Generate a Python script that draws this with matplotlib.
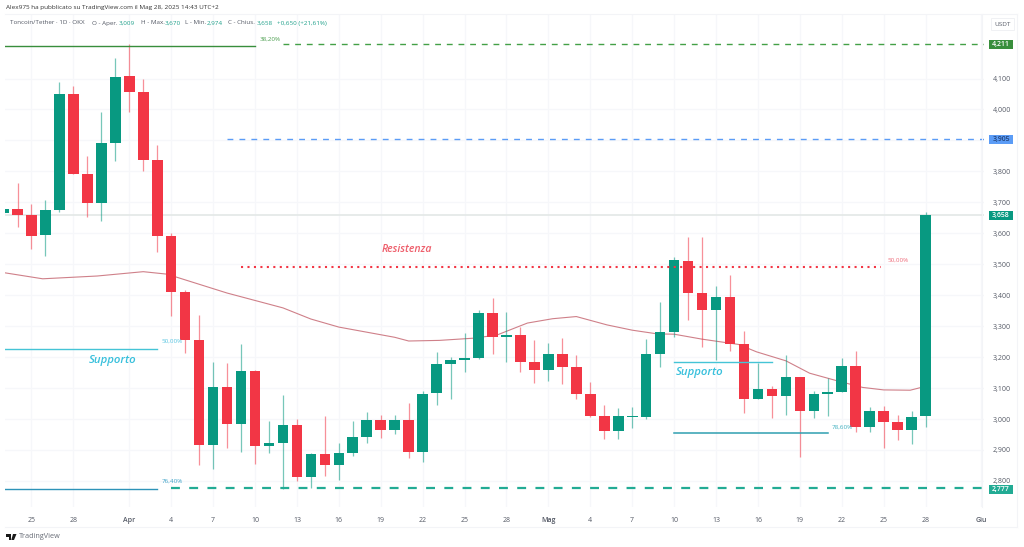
import matplotlib
matplotlib.use("Agg")
import matplotlib.pyplot as plt
from matplotlib.lines import Line2D
from matplotlib.patches import Rectangle, Polygon, Circle

W, H = 1024, 547
plt.rcParams['font.family'] = ['Open Sans', 'DejaVu Sans']

# Daily candles, first = 23 Mar 2025, last = 28 May 2025
opens = [3.665,3.680,3.660,3.594,3.676,4.049,3.793,3.699,3.893,4.108,4.058,3.836,3.591,3.411,3.255,
         2.917,3.102,2.984,3.154,2.912,2.922,2.981,2.813,2.887,2.852,2.889,2.941,2.996,2.965,2.996,
         2.892,3.084,3.177,3.190,3.197,3.342,3.266,3.272,3.183,3.158,3.211,3.168,3.081,3.011,2.961,
         3.008,3.008,3.211,3.280,3.511,3.407,3.351,3.393,3.242,3.065,3.098,3.073,3.136,3.025,3.081,
         3.088,3.171,2.974,3.027,2.990,2.965,3.009]
highs = [3.680,3.763,3.695,3.708,4.089,4.076,3.850,3.992,4.166,4.211,4.099,3.885,3.601,3.417,3.336,
         3.184,3.180,3.242,3.158,2.994,3.078,2.999,2.891,3.011,2.922,2.995,3.023,3.013,3.013,3.053,
         3.089,3.216,3.200,3.279,3.352,3.390,3.346,3.298,3.255,3.247,3.262,3.206,3.119,3.044,3.036,
         3.040,3.258,3.378,3.524,3.587,3.587,3.431,3.464,3.284,3.180,3.107,3.206,3.136,3.091,3.132,
         3.197,3.220,3.038,3.042,3.013,3.026,3.670]
lows = [3.665,3.620,3.549,3.527,3.670,3.790,3.653,3.641,3.835,3.993,3.802,3.541,3.334,3.214,2.851,
        2.838,2.907,2.893,2.855,2.891,2.774,2.799,2.777,2.815,2.804,2.881,2.921,2.939,2.952,2.875,
        2.860,3.046,3.065,3.153,3.195,3.210,3.185,3.151,3.117,3.124,3.114,3.065,3.005,2.936,2.936,
        2.972,2.999,3.169,3.266,3.320,3.234,3.191,3.221,3.019,3.065,3.002,3.013,2.878,3.004,3.011,
        3.088,2.957,2.958,2.905,2.932,2.919,2.974]
closes = [3.680,3.660,3.592,3.676,4.049,3.793,3.697,3.893,4.106,4.058,3.836,3.591,3.411,3.255,2.917,
          3.102,2.984,3.156,2.912,2.923,2.981,2.813,2.887,2.852,2.889,2.941,2.996,2.965,2.996,2.892,
          3.082,3.177,3.190,3.197,3.342,3.266,3.272,3.183,3.158,3.211,3.168,3.081,3.011,2.961,3.010,
          3.010,3.211,3.280,3.513,3.407,3.351,3.393,3.242,3.065,3.098,3.073,3.136,3.025,3.081,3.088,
          3.171,2.974,3.027,2.990,2.965,3.006,3.658]

# Moving average, read at these day positions
ma_days = [0,2.8,6.7,10,11.7,16,20,22,24,28,29,31.2,33.6,35.3,37.5,39.3,41,43.2,45,46.8,48,50,52.6,
           53.9,56,57.7,59.7,61.5,63,64.9,65.6]
ma_vals = [3.473,3.453,3.462,3.476,3.468,3.407,3.359,3.323,3.297,3.264,3.252,3.254,3.261,3.271,3.310,
           3.324,3.331,3.304,3.287,3.275,3.274,3.258,3.241,3.217,3.188,3.148,3.123,3.102,3.094,3.093,3.101]

x_tick_days = [2,5,9,12,15,18,21,24,27,30,33,36,39,42,45,48,51,54,57,60,63,66,70]
x_tick_labels = ['25','28','Apr','4','7','10','13','16','19','22','25','28','Mag','4','7','10','13','16','19','22','25','28','Giu']
y_ticks = [2.8,2.9,3.0,3.1,3.2,3.3,3.4,3.5,3.6,3.7,3.8,3.9,4.0,4.1]
y_tick_labels = ['2,800','2,900','3,000','3,100','3,200','3,300','3,400','3,500','3,600','3,700','3,800','','4,000','4,100']

# Drawn levels: price, first day, last day
fib382 = (4.205, 0, 18)
level_green = (4.211, 20, 70.2)
level_blue = (3.905, 16, 70.2)
level_res = (3.492, 17, 62.8)
sup_a = (3.227, 0, 11)
sup_b = (2.775, 0, 11)
level_low = (2.777, 12, 70.2)
sup_c = (3.184, 48, 55)
sup_d = (2.954, 48, 59)
last_price = 3.658

UP, DOWN = '#089981', '#f23645'

fig = plt.figure(figsize=(W/100, H/100), dpi=100, facecolor='white')
L, R, T, B = 5, 984, 14, 507
ax = fig.add_axes([L/W, 1-B/H, (R-L)/W, (B-T)/H])
ax.set_xlim((L-3.55)/13.97, (R-3.55)/13.97)
ax.set_ylim(3-(B-419)*0.003231, 3+(419-T)*0.003231)
for s in ax.spines.values():
    s.set_visible(False)

ax.set_axisbelow(True)
ax.grid(True, color='#f6f7fa', lw=0.9)
ax.set_xticks(x_tick_days, x_tick_labels)
ax.yaxis.tick_right()
ax.set_yticks(y_ticks, y_tick_labels)
ax.tick_params(length=0, labelcolor='#555a66', labelsize=5.0, pad=7)
ax.tick_params(axis='y', pad=6.5)
for lab, t in zip(ax.get_xticklabels(), x_tick_labels):
    if t in ('Apr', 'Mag', 'Giu'):
        lab.set_fontweight('semibold')

ax.hlines(last_price, ax.get_xlim()[0], ax.get_xlim()[1], color='#e3e8e6', lw=1.2, zorder=1)
ax.plot(ma_days, ma_vals, color='#cf8089', lw=0.8, zorder=2)

days = list(range(len(opens)))
colors = [UP if c >= o else DOWN for o, c in zip(opens, closes)]
ax.vlines(days, lows, highs, colors=colors, lw=0.9, alpha=0.55, zorder=3)
ax.bar(days, [max(abs(c-o), 0.002) for o, c in zip(opens, closes)],
       bottom=[min(o, c) for o, c in zip(opens, closes)], width=0.76, color=colors, lw=0, zorder=4)

def level(v, color, lw, ls):
    ax.plot([v[1], v[2]], [v[0], v[0]], color=color, lw=lw, ls=ls, zorder=5, dash_capstyle='butt')

level(fib382, '#388e3c', 1.0, '-')
level(level_green, '#43a047', 1.0, (0, (4.2, 4.2)))
level(level_blue, '#5b9cf6', 1.0, (0, (4.2, 4.4)))
level(level_res, '#f23645', 1.5, (0, (1, 2.1)))
level(sup_a, '#45c4d6', 1.0, '-')
level(sup_b, '#2d93b8', 1.0, '-')
level(level_low, '#22ab94', 1.6, (0, (4, 4.2)))
level(sup_c, '#45c4d6', 1.0, '-')
level(sup_d, '#2f9fb0', 1.1, '-')

def ftext(x, y, s, **kw):
    kw.setdefault('va', 'center')
    kw.setdefault('ha', 'left')
    return fig.text(x/W, 1-y/H, s, **kw)

ftext(6, 8, 'Alex975 ha pubblicato su TradingView.com il Mag 28, 2025 14:43 UTC+2', fontsize=4.6, color='#333333')
G = '#555a66'; V = '#1fa08a'
for x, s, c in [(10, 'Toncoin/Tether · 1D · OKX', G), (92, 'O - Aper.', G), (119, '3,009', V),
                (141, 'H - Max.', G), (165, '3,670', V), (185, 'L - Min.', G), (207, '2,974', V),
                (228, 'C - Chius.', G), (257, '3,658', V), (277, '+0,650 (+21,61%)', V)]:
    ftext(x, 23, s, fontsize=4.5, color=c)

ftext(260, 39, '38,20%', fontsize=4.5, color='#4c9f50')
ftext(888, 260, '50,00%', fontsize=4.5, color='#ee6b7a')
ftext(162, 341.5, '50,00%', fontsize=4.5, color='#57c4e0')
ftext(162, 481, '76,40%', fontsize=4.5, color='#3ea3c8')
ftext(832, 427, '78,60%', fontsize=4.5, color='#3fb0c0')
ftext(382, 250, 'Resistenza', fontsize=7.6, style='italic', fontweight='semibold', color='#ee5f6c')
ftext(89, 360, 'Supporto', fontsize=8.2, style='italic', fontweight='semibold', color='#38c0dc')
ftext(676, 373, 'Supporto', fontsize=8.2, style='italic', fontweight='semibold', color='#38c0dc')

for y, s, bg, fg in [(44.5, '4,211', '#388e3c', 'white'), (139.5, '3,905', '#5b9cf6', '#22427a'),
                     (215.5, '3,658', '#089981', 'white'), (489, '2,777', '#22ab94', 'white')]:
    fig.add_artist(Rectangle((989/W, 1-(y+4.5)/H), 24/W, 9/H, transform=fig.transFigure, color=bg, lw=0))
    ftext(1001, y, s, fontsize=5.0, color=fg, ha='center', fontweight='semibold')

fig.add_artist(Rectangle((991/W, 1-30/H), 23/W, 12/H, transform=fig.transFigure, fc='white', ec='#f0f1f4', lw=0.7))
ftext(1003, 24, 'USDT', fontsize=4.6, color='#555a66', ha='center')

# frame of the chart
for xs, ys in [((5, 1017), (14, 14)), ((5, 1017), (527, 527)), ((1017, 1017), (14, 527)), ((981.5, 981.5), (14, 507))]:
    fig.add_artist(Line2D([x/W for x in xs], [1-y/H for y in ys], color='#f3f4f7', lw=0.8))

# TradingView logo mark and name
k = '#1a1a1a'
fig.add_artist(Polygon([(6/W, 1-534/H), (11/W, 1-534/H), (11/W, 1-540/H), (8.5/W, 1-540/H), (8.5/W, 1-536.5/H), (6/W, 1-536.5/H)],
                       transform=fig.transFigure, color=k, lw=0))
fig.add_artist(Polygon([(13/W, 1-534/H), (16.5/W, 1-534/H), (14/W, 1-540/H), (11.3/W, 1-540/H)],
                       transform=fig.transFigure, color=k, lw=0))
ftext(18.5, 537, 'TradingView', fontsize=5.2, color='#666b75')

fig.savefig('out.png', dpi=100)
